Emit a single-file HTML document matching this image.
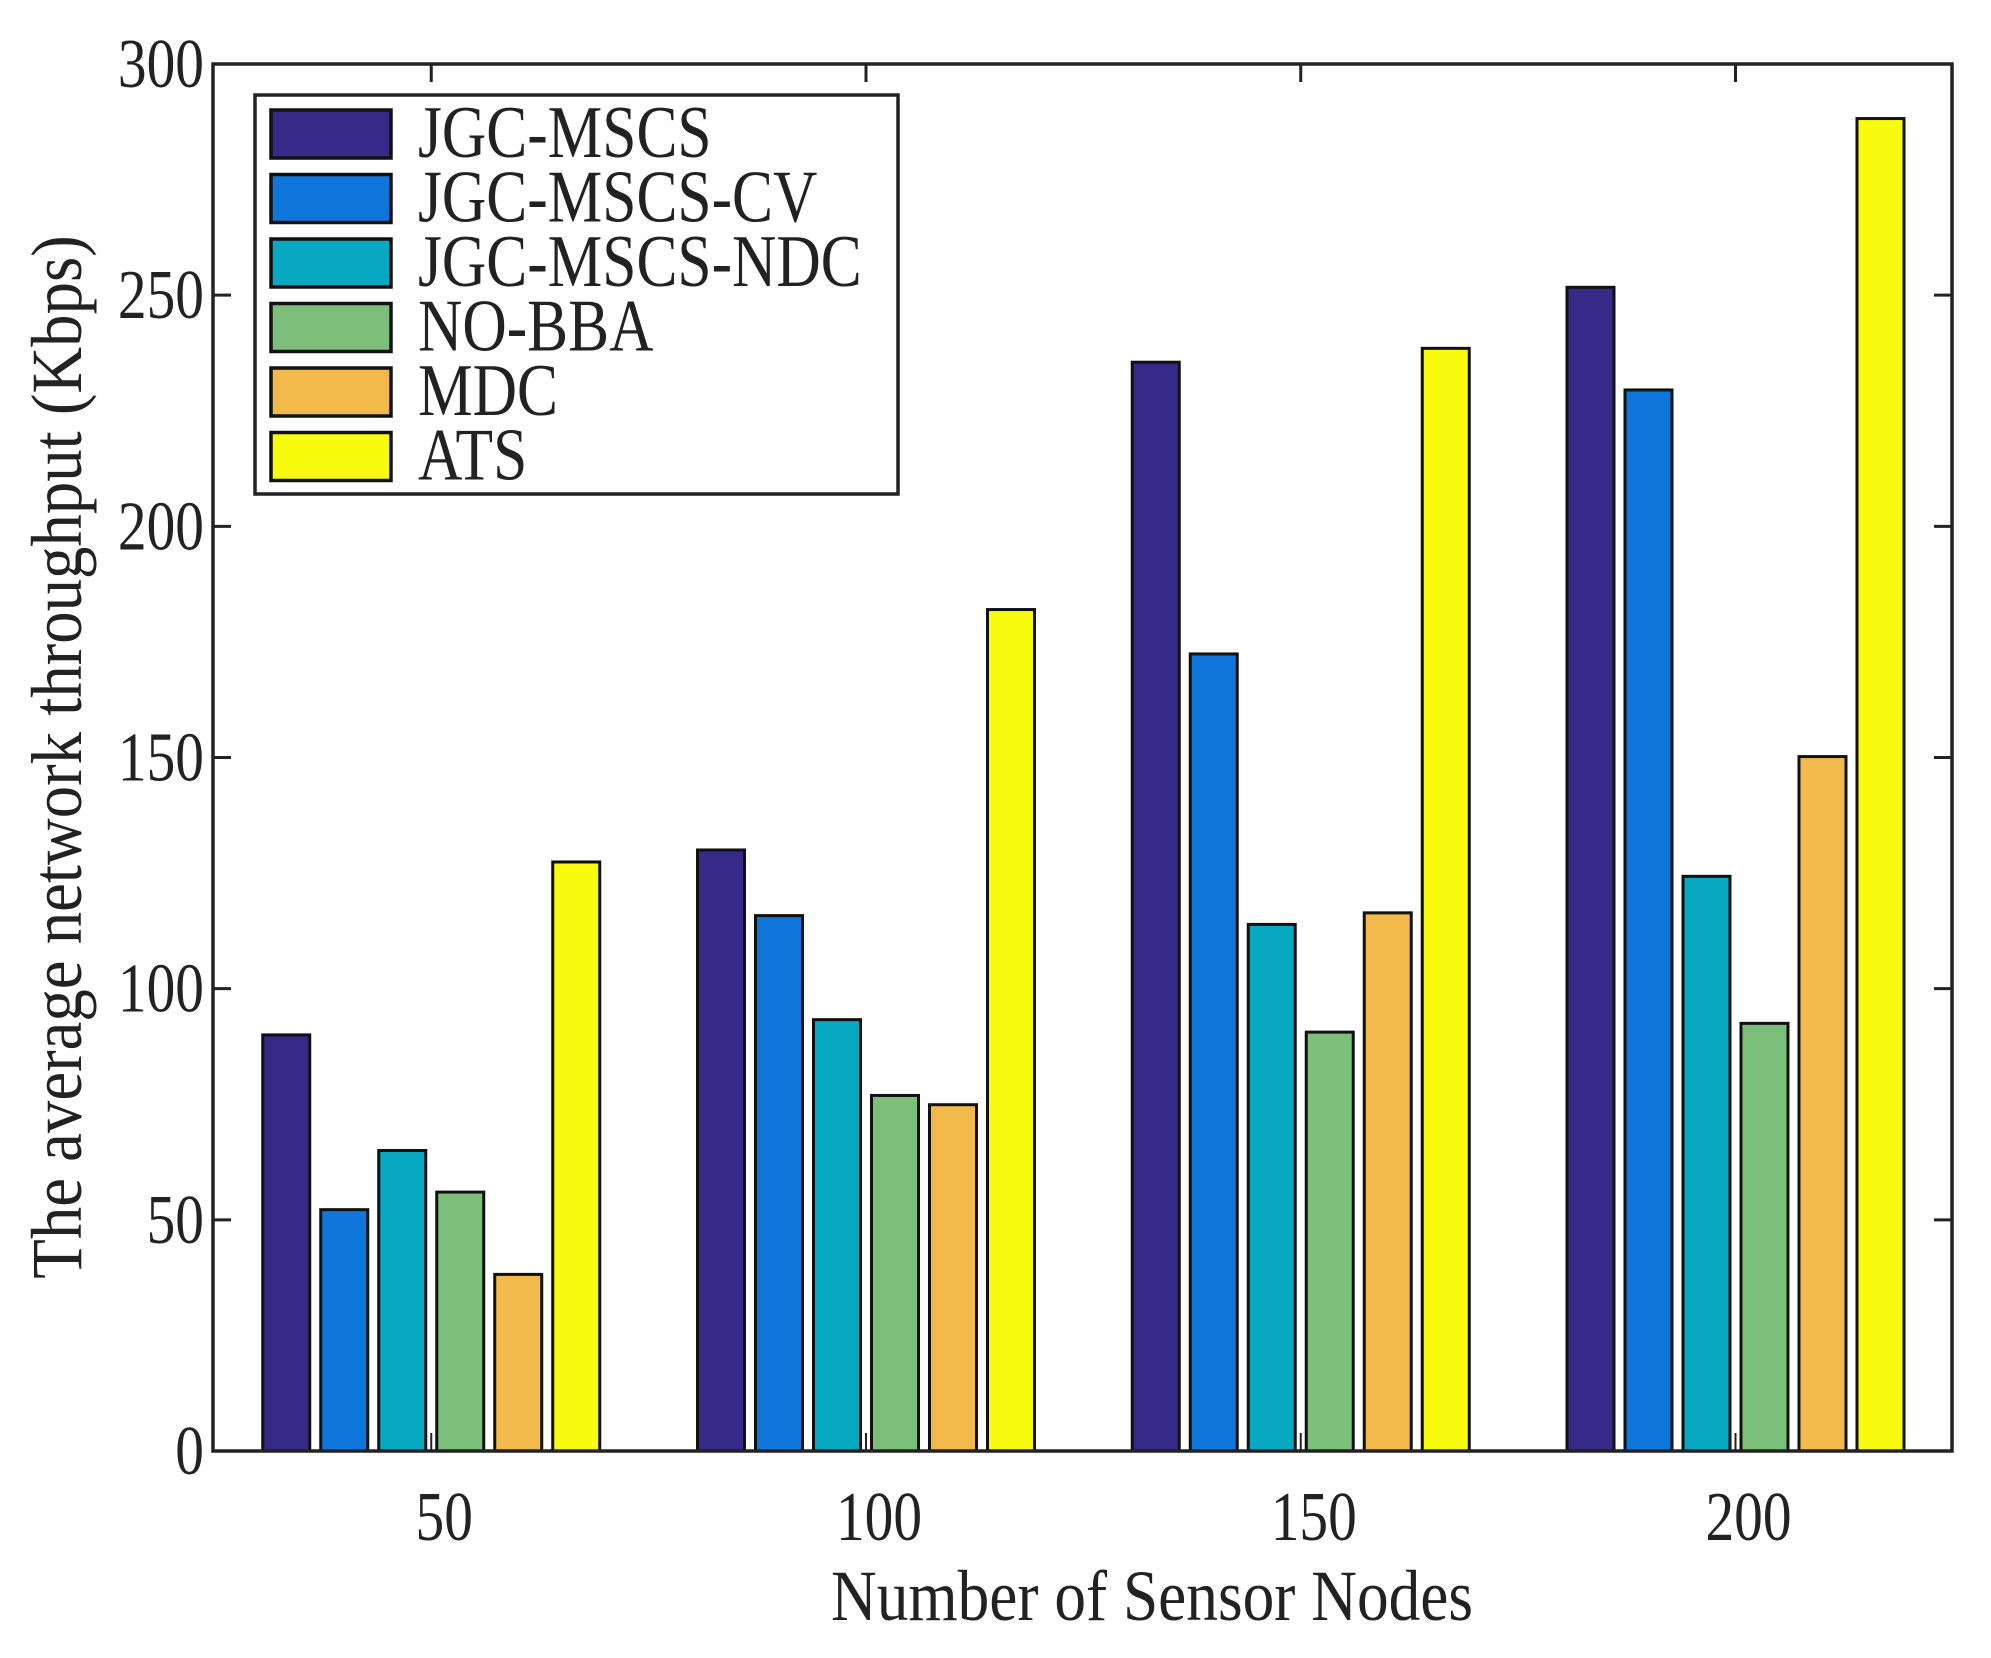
<!DOCTYPE html>
<html><head><meta charset="utf-8"><style>
html,body{margin:0;padding:0;background:#fff;}
svg text{font-family:"Liberation Serif",serif;fill:#222;}
</style></head><body>
<svg id="chart" width="1991" height="1653" viewBox="0 0 1991 1653" xmlns="http://www.w3.org/2000/svg">
<g id="plot"></g>
</svg>
<script>
const categories = [50, 100, 150, 200];
const seriesNames = ["JGC-MSCS","JGC-MSCS-CV","JGC-MSCS-NDC","NO-BBA","MDC","ATS"];
const seriesColors = ["#352a87","#0f77db","#06a9c1","#7cbf7b","#f0b94a","#f9fb0e"];
const sJGC = [90, 130, 235.5, 251.7];
const sCV = [52.2, 115.8, 172.4, 229.5];
const sNDC = [65, 93.3, 113.9, 124.3];
const sNOBBA = [56, 76.9, 90.6, 92.5];
const sMDC = [38.2, 74.9, 116.4, 150.2];
const sATS = [127.4, 182, 238.5, 288.2];
const seriesValues = [sJGC, sCV, sNDC, sNOBBA, sMDC, sATS];
const yTicks = [0, 50, 100, 150, 200, 250, 300];
const xTickLabels = ["50","100","150","200"];

const NS = "http://www.w3.org/2000/svg";
const L = 213, R = 1952, T = 64, B = 1451;
const xMin = 24.9, xMax = 224.9, yMin = 0, yMax = 300;
const xs = v => L + (v - xMin) / (xMax - xMin) * (R - L);
const ys = v => B - (v - yMin) / (yMax - yMin) * (B - T);
const g = document.getElementById('plot');
function mk(tag, attrs, parent){ const e = document.createElementNS(NS, tag); for (const k in attrs) e.setAttribute(k, attrs[k]); (parent||g).appendChild(e); return e; }
function txt(x, y, s, size, sx, anchor, parent, rot){
  const t = mk('text', {x: 0, y: 0, 'text-anchor': anchor, 'font-size': size,
    transform: 'translate(' + x + ',' + y + ')' + (rot ? ' rotate(' + rot + ')' : '') + ' scale(' + sx + ',1)'}, parent);
  t.textContent = s;
  return t;
}

const barStep = 58, barW = 47;
seriesValues.forEach((vals, si) => {
  vals.forEach((v, ci) => {
    const cx = xs(categories[ci]) + (si - 2.5) * barStep;
    const r = mk('rect', {x: cx - barW/2, y: ys(v), width: barW, height: ys(0) - ys(v), fill: seriesColors[si], stroke: '#111', 'stroke-width': 3});
    
    
  });
});

const box = mk('rect', {x: L, y: T, width: R - L, height: B - T, fill: 'none', stroke: '#222', 'stroke-width': 3.5});



yTicks.forEach(t => {
  const y = ys(t);
  const a = mk('line', {x1: L, x2: L + 18, y1: y, y2: y, stroke: '#222', 'stroke-width': 3});
  
  
  const b = mk('line', {x1: R, x2: R - 18, y1: y, y2: y, stroke: '#222', 'stroke-width': 3});
  
  
  const tx = txt(204, y + 23, String(t), 70, 0.82, 'end');
  
  
});
categories.forEach((c, i) => {
  const x = xs(c);
  const a = mk('line', {x1: x, x2: x, y1: T, y2: T + 18, stroke: '#222', 'stroke-width': 3});
  
  
  const b = mk('line', {x1: x, x2: x, y1: B, y2: B - 18, stroke: '#222', 'stroke-width': 2});
  
  
  const tx = txt(x + 13, 1540, xTickLabels[i], 70, 0.82, 'middle');
  
  
});

const xt = txt(1152, 1620, 'Number of Sensor Nodes', 72, 0.88, 'middle');


const yt = txt(81, 757, 'The average network throughput (Kbps)', 72, 0.9, 'middle', null, -90);



const lg = mk('g', {});


const lb = mk('rect', {x: 255, y: 95, width: 643, height: 399, fill: '#fff', stroke: '#222', 'stroke-width': 3.5}, lg);


seriesNames.forEach((n, i) => {
  const y0 = 110 + i * 64.5;
  const p = mk('rect', {x: 271, y: y0, width: 120, height: 48, fill: seriesColors[i], stroke: '#111', 'stroke-width': 3.5}, lg);
  
  
  const t = txt(418, y0 + 47, n, 74, 0.83, 'start', lg);
  
  
});
</script>
</body></html>
